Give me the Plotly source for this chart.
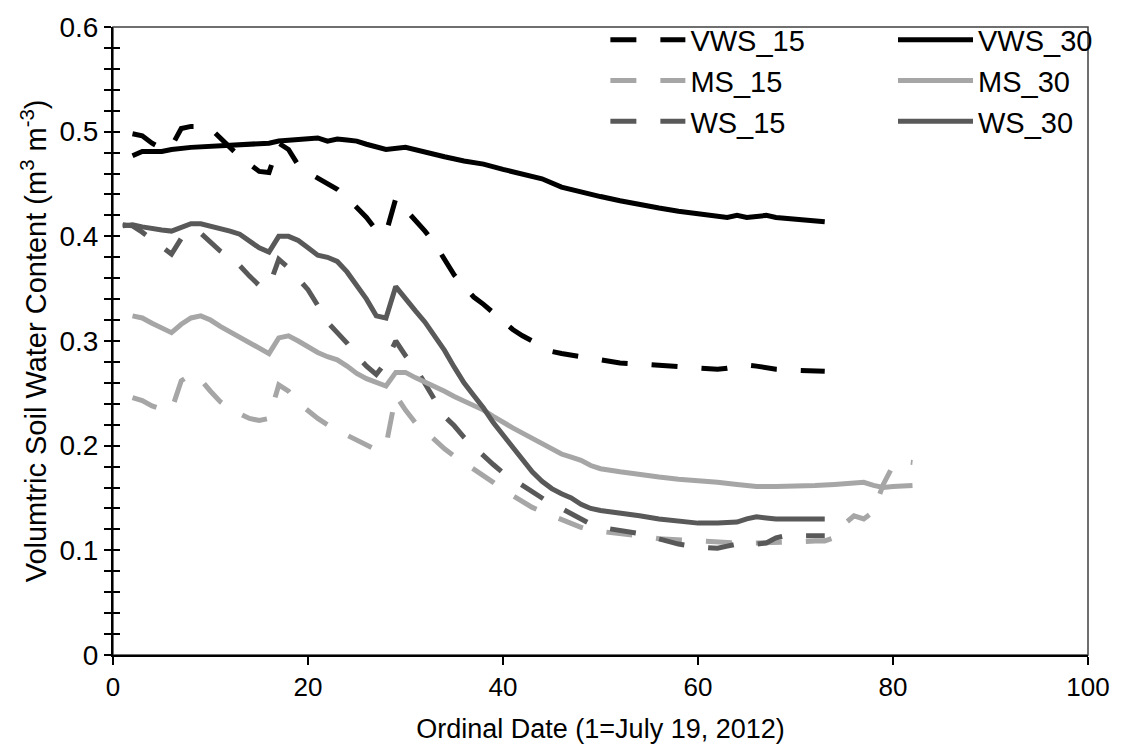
import plotly.graph_objects as go

# ---------------- data ----------------
vws15_x = [2,3,4,5,6,7,8,9,10,11,12,13,14,15,16,17,18,19,20,21,22,23,24,25,26,27,28,29,30,31,32,33,34,35,36,37,38,39,40,41,42,43,44,45,46,48,50,52,54,56,58,60,62,63,65,66,68,70,72,73]
vws15_y = [0.498,0.496,0.489,0.484,0.486,0.503,0.505,0.505,0.503,0.494,0.486,0.476,0.469,0.462,0.461,0.489,0.483,0.468,0.461,0.456,0.451,0.445,0.437,0.428,0.418,0.406,0.403,0.436,0.426,0.416,0.405,0.393,0.379,0.363,0.352,0.342,0.335,0.327,0.318,0.311,0.305,0.300,0.294,0.290,0.288,0.285,0.282,0.279,0.278,0.277,0.275,0.274,0.273,0.274,0.277,0.276,0.273,0.272,0.271,0.271]

vws30_x = [2,3,5,6,8,10,12,14,16,17,19,21,22,23,24,25,26,28,30,32,34,36,38,40,42,44,46,48,50,52,54,56,58,60,62,63,64,65,66,67,68,70,72,73]
vws30_y = [0.477,0.481,0.481,0.483,0.485,0.486,0.487,0.488,0.489,0.491,0.493,0.494,0.491,0.493,0.492,0.491,0.488,0.483,0.485,0.480,0.476,0.472,0.469,0.464,0.459,0.455,0.447,0.442,0.438,0.434,0.430,0.427,0.424,0.422,0.420,0.418,0.420,0.418,0.419,0.420,0.418,0.416,0.414,0.414]

ms15_x = [2,3,4,5,6,7,8,9,10,11,12,13,14,15,16,17,18,19,20,21,22,23,24,25,26,27,28,29,30,31,32,33,34,35,36,37,38,39,40,41,42,43,44,45,46,47,48,49,50,52,54,56,58,60,62,64,66,68,70,72,73,74,75,76,77,78,79,80,81,82]
ms15_y = [0.246,0.243,0.238,0.235,0.234,0.262,0.268,0.263,0.252,0.242,0.235,0.230,0.226,0.224,0.226,0.258,0.252,0.241,0.233,0.226,0.220,0.216,0.210,0.205,0.201,0.196,0.200,0.248,0.234,0.222,0.214,0.205,0.197,0.190,0.184,0.177,0.171,0.165,0.158,0.152,0.146,0.141,0.137,0.133,0.129,0.126,0.122,0.119,0.118,0.117,0.114,0.111,0.110,0.108,0.107,0.107,0.107,0.107,0.108,0.109,0.109,0.112,0.125,0.133,0.130,0.137,0.163,0.181,0.185,0.184]

ms30_x = [2,3,4,5,6,7,8,9,10,11,12,13,14,15,16,17,18,19,20,21,22,23,24,25,26,27,28,29,30,31,32,33,34,35,36,37,38,39,40,41,42,43,44,45,46,47,48,49,50,52,54,56,58,60,62,64,66,68,70,72,74,76,77,78,79,80,82]
ms30_y = [0.324,0.322,0.317,0.312,0.308,0.316,0.322,0.324,0.320,0.314,0.309,0.304,0.299,0.294,0.288,0.303,0.305,0.300,0.294,0.289,0.285,0.282,0.276,0.269,0.264,0.260,0.257,0.270,0.270,0.265,0.261,0.256,0.252,0.247,0.243,0.239,0.234,0.228,0.222,0.217,0.212,0.207,0.202,0.197,0.192,0.189,0.186,0.181,0.178,0.175,0.172,0.170,0.168,0.167,0.165,0.163,0.161,0.161,0.161,0.162,0.163,0.165,0.165,0.162,0.160,0.161,0.162]

ws15_x = [1,2,3,4,5,6,7,8,9,10,11,12,13,14,15,16,17,18,19,20,21,22,23,24,25,26,27,28,29,30,31,32,33,34,35,36,37,38,39,40,41,42,43,44,45,46,47,48,49,50,52,54,56,58,60,62,63,64,66,67,68,69,71,73]
ws15_y = [0.411,0.410,0.404,0.397,0.390,0.383,0.398,0.405,0.403,0.394,0.386,0.380,0.372,0.362,0.353,0.352,0.378,0.370,0.360,0.349,0.334,0.318,0.308,0.298,0.286,0.276,0.268,0.280,0.300,0.286,0.275,0.260,0.243,0.228,0.219,0.208,0.199,0.190,0.182,0.174,0.168,0.161,0.155,0.149,0.144,0.140,0.135,0.130,0.125,0.122,0.119,0.116,0.111,0.106,0.103,0.102,0.104,0.106,0.106,0.107,0.112,0.114,0.114,0.114]

ws30_x = [1,2,3,4,5,6,7,8,9,10,11,12,13,14,15,16,17,18,19,20,21,22,23,24,25,26,27,28,29,30,31,32,33,34,35,36,37,38,39,40,41,42,43,44,45,46,47,48,49,50,52,54,56,58,60,62,63,64,65,66,67,68,70,72,73]
ws30_y = [0.410,0.411,0.409,0.407,0.406,0.405,0.409,0.412,0.412,0.410,0.408,0.405,0.402,0.396,0.389,0.385,0.400,0.400,0.396,0.389,0.382,0.380,0.376,0.366,0.353,0.340,0.324,0.322,0.352,0.340,0.329,0.318,0.305,0.291,0.275,0.260,0.248,0.236,0.222,0.210,0.198,0.186,0.175,0.166,0.159,0.154,0.150,0.144,0.140,0.138,0.136,0.133,0.130,0.128,0.126,0.126,0.126,0.127,0.130,0.132,0.131,0.130,0.130,0.130,0.130]

x_tick_vals = [0, 20, 40, 60, 80, 100]
y_tick_vals = [0, 0.1, 0.2, 0.3, 0.4, 0.5, 0.6]

BLACK = "#000000"
LIGHT = "#a6a6a6"
DARK = "#595959"
DASH = "26px,24px"
FONT = "Liberation Sans, Arial, sans-serif"

fig = go.Figure()

series = [
    ("VWS_15", vws15_x, vws15_y, BLACK, DASH, "legend"),
    ("MS_15", ms15_x, ms15_y, LIGHT, DASH, "legend"),
    ("WS_15", ws15_x, ws15_y, DARK, DASH, "legend"),
    ("VWS_30", vws30_x, vws30_y, BLACK, "solid", "legend2"),
    ("MS_30", ms30_x, ms30_y, LIGHT, "solid", "legend2"),
    ("WS_30", ws30_x, ws30_y, DARK, "solid", "legend2"),
]
for name, xs, ys, col, dash, lg in series:
    fig.add_trace(go.Scatter(
        x=xs, y=ys, mode="lines", name=name, legend=lg,
        line=dict(color=col, width=5, dash=dash),
    ))

# dummy trace so the inner-tick overlay axis is drawn
fig.add_trace(go.Scatter(x=[None], y=[None], yaxis="y2", showlegend=False, hoverinfo="skip"))

fig.update_layout(
    width=1128, height=751,
    margin=dict(l=113, r=40, t=17, b=94),
    paper_bgcolor="white", plot_bgcolor="white",
    font=dict(family=FONT, color="black", size=26),
    xaxis=dict(
        range=[0, 100], tickvals=x_tick_vals, ticks="outside", ticklen=8, tickwidth=2,
        tickcolor="black", showline=True, linecolor="black", linewidth=2,
        showgrid=False, zeroline=False, tickfont=dict(size=26),
        title=dict(text="Ordinal Date (1=July 19, 2012)", font=dict(size=27), standoff=18),
    ),
    yaxis=dict(
        range=[0, 0.6], tickvals=y_tick_vals, ticks="outside", ticklen=7, tickwidth=2,
        tickcolor="black", showline=True, linecolor="black", linewidth=2,
        showgrid=False, zeroline=False, tickfont=dict(size=28),
        minor=dict(dtick=0.02, ticks="outside", ticklen=7, tickwidth=2, tickcolor="black", showgrid=False),
        title=dict(text="Volumtric Soil Water Content (m<sup>3</sup> m<sup>-3</sup>)", font=dict(size=29), standoff=4),
    ),
    yaxis2=dict(
        range=[0, 0.6], overlaying="y", side="left", anchor="x",
        tickvals=y_tick_vals, ticks="inside", ticklen=7, tickwidth=2, tickcolor="black",
        showticklabels=False, showline=False, showgrid=False, zeroline=False,
        minor=dict(dtick=0.02, ticks="inside", ticklen=7, tickwidth=2, tickcolor="black", showgrid=False),
    ),
    legend=dict(x=0.505, y=1.02, xanchor="left", yanchor="top", bgcolor="rgba(0,0,0,0)",
                font=dict(size=29), itemwidth=75, tracegroupgap=0),
    legend2=dict(x=0.80, y=1.02, xanchor="left", yanchor="top", bgcolor="rgba(0,0,0,0)",
                 font=dict(size=29), itemwidth=75, tracegroupgap=0),
    shapes=[dict(type="rect", xref="paper", yref="paper", x0=0, y0=0, x1=1, y1=1,
                 line=dict(color="#404040", width=1.5), layer="below")],
    showlegend=True,
)

fig.write_html("out.html")
